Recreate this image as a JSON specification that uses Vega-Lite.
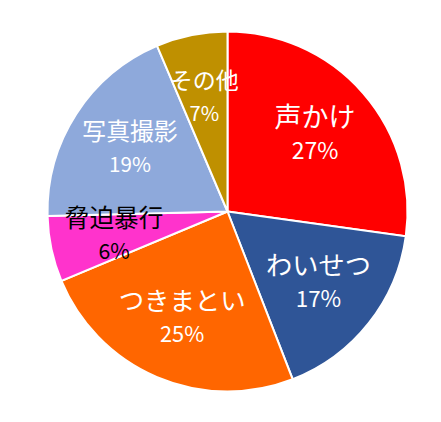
{
  "$schema": "https://vega.github.io/schema/vega-lite/v6.json",
  "width": 441,
  "height": 422,
  "autosize": {"type": "fit", "contains": "padding"},
  "padding": {"left": 14, "top": 1, "right": 0, "bottom": 0},
  "background": "white",
  "config": {"view": {"stroke": null}, "text": {"font": "Noto Sans CJK JP"}},
  "data": {
    "values": [
      {"n": 1, "category": "声かけ", "value": 27.2, "pct": "27%"},
      {"n": 2, "category": "わいせつ", "value": 16.9, "pct": "17%"},
      {"n": 3, "category": "つきまとい", "value": 24.6, "pct": "25%"},
      {"n": 4, "category": "脅迫暴行", "value": 5.9, "pct": "6%"},
      {"n": 5, "category": "写真撮影", "value": 19.0, "pct": "19%"},
      {"n": 6, "category": "その他", "value": 6.4, "pct": "7%"}
    ]
  },
  "encoding": {
    "theta": {"field": "value", "type": "quantitative", "stack": true},
    "order": {"field": "n", "type": "quantitative"}
  },
  "layer": [
    {
      "mark": {"type": "arc", "outerRadius": 180, "stroke": "white", "strokeWidth": 2},
      "encoding": {
        "color": {
          "field": "category",
          "type": "nominal",
          "scale": {
            "domain": ["声かけ", "わいせつ", "つきまとい", "脅迫暴行", "写真撮影", "その他"],
            "range": ["#FF0000", "#2F5597", "#FF6600", "#FF33CC", "#8EA9DB", "#BF9000"]
          },
          "legend": null
        }
      }
    },
    {
      "mark": {"type": "text", "radius": 116, "dy": -16},
      "encoding": {
        "text": {"field": "category"},
        "color": {
          "field": "category",
          "type": "nominal",
          "scale": {
            "domain": ["声かけ", "わいせつ", "つきまとい", "脅迫暴行", "写真撮影", "その他"],
            "range": ["white", "white", "white", "black", "white", "white"]
          },
          "legend": null
        },
        "size": {
          "field": "category",
          "type": "nominal",
          "scale": {
            "domain": ["声かけ", "わいせつ", "つきまとい", "脅迫暴行", "写真撮影", "その他"],
            "range": [27, 23, 22, 19, 22, 18]
          },
          "legend": null
        }
      }
    },
    {
      "mark": {"type": "text", "radius": 116, "dy": 17},
      "encoding": {
        "text": {"field": "pct"},
        "color": {
          "field": "category",
          "type": "nominal",
          "scale": {
            "domain": ["声かけ", "わいせつ", "つきまとい", "脅迫暴行", "写真撮影", "その他"],
            "range": ["white", "white", "white", "black", "white", "white"]
          },
          "legend": null
        },
        "size": {
          "field": "category",
          "type": "nominal",
          "scale": {
            "domain": ["声かけ", "わいせつ", "つきまとい", "脅迫暴行", "写真撮影", "その他"],
            "range": [23, 20, 20, 18, 21, 18]
          },
          "legend": null
        }
      }
    }
  ],
  "resolve": {"scale": {"color": "independent", "size": "independent"}}
}
